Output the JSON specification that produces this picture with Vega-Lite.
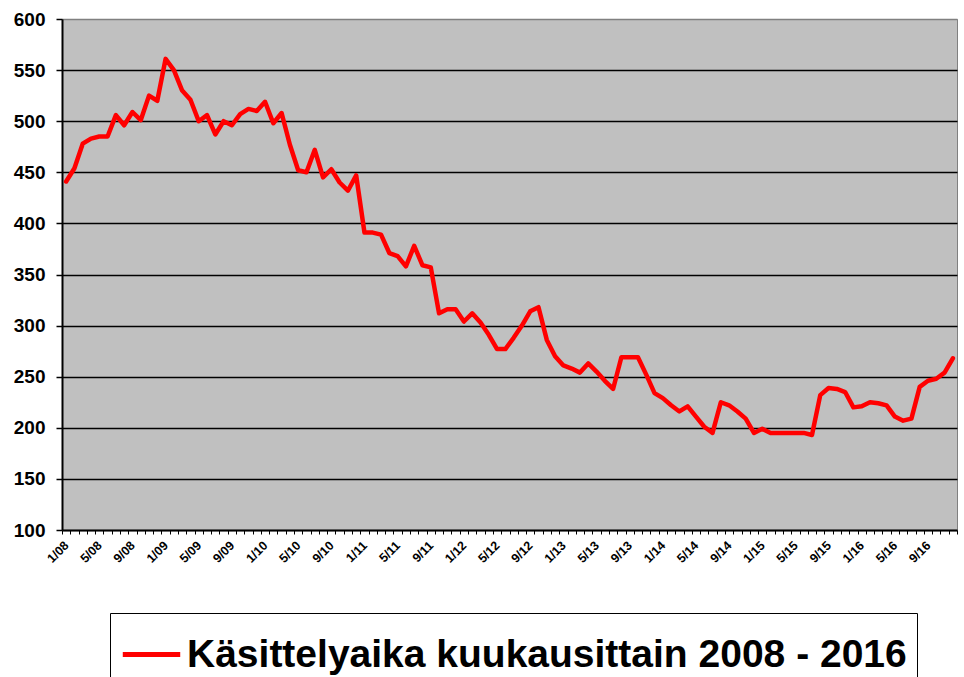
{
  "$schema": "https://vega.github.io/schema/vega-lite/v6.json",
  "width": 895,
  "height": 511,
  "autosize": {"type": "none"},
  "padding": {"left": 62, "top": 19, "right": 7, "bottom": 147},
  "background": "white",
  "config": {
    "view": {"fill": "#c0c0c0", "stroke": "#808080", "strokeWidth": 1},
    "font": "Liberation Sans"
  },
  "data": {"values": [
    {"m":"1/08","v":441},{"m":"2/08","v":454},{"m":"3/08","v":478},{"m":"4/08","v":483},{"m":"5/08","v":485},{"m":"6/08","v":485},{"m":"7/08","v":506},{"m":"8/08","v":496},{"m":"9/08","v":509},{"m":"10/08","v":501},{"m":"11/08","v":525},{"m":"12/08","v":520},
    {"m":"1/09","v":561},{"m":"2/09","v":550},{"m":"3/09","v":530},{"m":"4/09","v":521},{"m":"5/09","v":500},{"m":"6/09","v":506},{"m":"7/09","v":487},{"m":"8/09","v":500},{"m":"9/09","v":496},{"m":"10/09","v":507},{"m":"11/09","v":512},{"m":"12/09","v":510},
    {"m":"1/10","v":519},{"m":"2/10","v":498},{"m":"3/10","v":508},{"m":"4/10","v":477},{"m":"5/10","v":452},{"m":"6/10","v":450},{"m":"7/10","v":472},{"m":"8/10","v":445},{"m":"9/10","v":453},{"m":"10/10","v":440},{"m":"11/10","v":432},{"m":"12/10","v":447},
    {"m":"1/11","v":391},{"m":"2/11","v":391},{"m":"3/11","v":389},{"m":"4/11","v":371},{"m":"5/11","v":368},{"m":"6/11","v":358},{"m":"7/11","v":378},{"m":"8/11","v":359},{"m":"9/11","v":357},{"m":"10/11","v":312},{"m":"11/11","v":316},{"m":"12/11","v":316},
    {"m":"1/12","v":304},{"m":"2/12","v":312},{"m":"3/12","v":303},{"m":"4/12","v":291},{"m":"5/12","v":277},{"m":"6/12","v":277},{"m":"7/12","v":288},{"m":"8/12","v":300},{"m":"9/12","v":314},{"m":"10/12","v":318},{"m":"11/12","v":286},{"m":"12/12","v":270},
    {"m":"1/13","v":261},{"m":"2/13","v":258},{"m":"3/13","v":254},{"m":"4/13","v":263},{"m":"5/13","v":255},{"m":"6/13","v":246},{"m":"7/13","v":238},{"m":"8/13","v":269},{"m":"9/13","v":269},{"m":"10/13","v":269},{"m":"11/13","v":252},{"m":"12/13","v":234},
    {"m":"1/14","v":229},{"m":"2/14","v":222},{"m":"3/14","v":216},{"m":"4/14","v":221},{"m":"5/14","v":211},{"m":"6/14","v":201},{"m":"7/14","v":195},{"m":"8/14","v":225},{"m":"9/14","v":222},{"m":"10/14","v":216},{"m":"11/14","v":209},{"m":"12/14","v":195},
    {"m":"1/15","v":199},{"m":"2/15","v":195},{"m":"3/15","v":195},{"m":"4/15","v":195},{"m":"5/15","v":195},{"m":"6/15","v":195},{"m":"7/15","v":193},{"m":"8/15","v":232},{"m":"9/15","v":239},{"m":"10/15","v":238},{"m":"11/15","v":235},{"m":"12/15","v":220},
    {"m":"1/16","v":221},{"m":"2/16","v":225},{"m":"3/16","v":224},{"m":"4/16","v":222},{"m":"5/16","v":211},{"m":"6/16","v":207},{"m":"7/16","v":209},{"m":"8/16","v":240},{"m":"9/16","v":246},{"m":"10/16","v":248},{"m":"11/16","v":254},{"m":"12/16","v":268}
  ]},
  "mark": {"type": "line", "strokeWidth": 4.5, "strokeJoin": "round", "strokeCap": "round"},
  "encoding": {
    "x": {
      "field": "m", "type": "ordinal", "sort": null,
      "scale": {"type": "band", "paddingInner": 0, "paddingOuter": 0},
      "axis": {
        "title": null,
        "tickBand": "extent",
        "domainColor": "black", "domainWidth": 2,
        "tickColor": "black", "tickSize": 4, "tickWidth": 1,
        "labelExpr": "indexof(['1','5','9'], split(datum.value, '/')[0]) >= 0 ? datum.value : ''",
        "labelAngle": -45, "labelAlign": "right", "labelBaseline": "middle",
        "labelFontSize": 12.5, "labelFontWeight": "bold", "labelColor": "black",
        "labelPadding": 9, "labelOverlap": false,
        "grid": false
      }
    },
    "y": {
      "field": "v", "type": "quantitative",
      "scale": {"domain": [100, 600], "nice": false, "zero": false},
      "axis": {
        "title": null,
        "values": [100, 150, 200, 250, 300, 350, 400, 450, 500, 550, 600],
        "grid": true,
        "gridColor": {"condition": {"test": "datum.value == 600 || datum.value == 100", "value": "#808080"}, "value": "black"},
        "gridWidth": 1.5,
        "domainColor": "black", "domainWidth": 2,
        "tickColor": "black", "tickSize": 6, "tickWidth": 1.5,
        "labelFontSize": 19, "labelFontWeight": "bold", "labelColor": "black",
        "labelPadding": 11
      }
    },
    "color": {
      "datum": "Käsittelyaika kuukausittain 2008 - 2016",
      "type": "nominal",
      "scale": {"range": ["#ff0000"]},
      "legend": {
        "orient": "none", "legendX": 48, "legendY": 594,
        "title": null,
        "symbolType": "stroke", "symbolSize": 3300, "symbolStrokeWidth": 5,
        "labelFontSize": 39, "labelFont": "Liberation Sans", "labelFontWeight": "bold",
        "labelColor": "black", "labelLimit": 1200,
        "strokeColor": "black", "fillColor": "white", "padding": 10
      }
    }
  }
}
